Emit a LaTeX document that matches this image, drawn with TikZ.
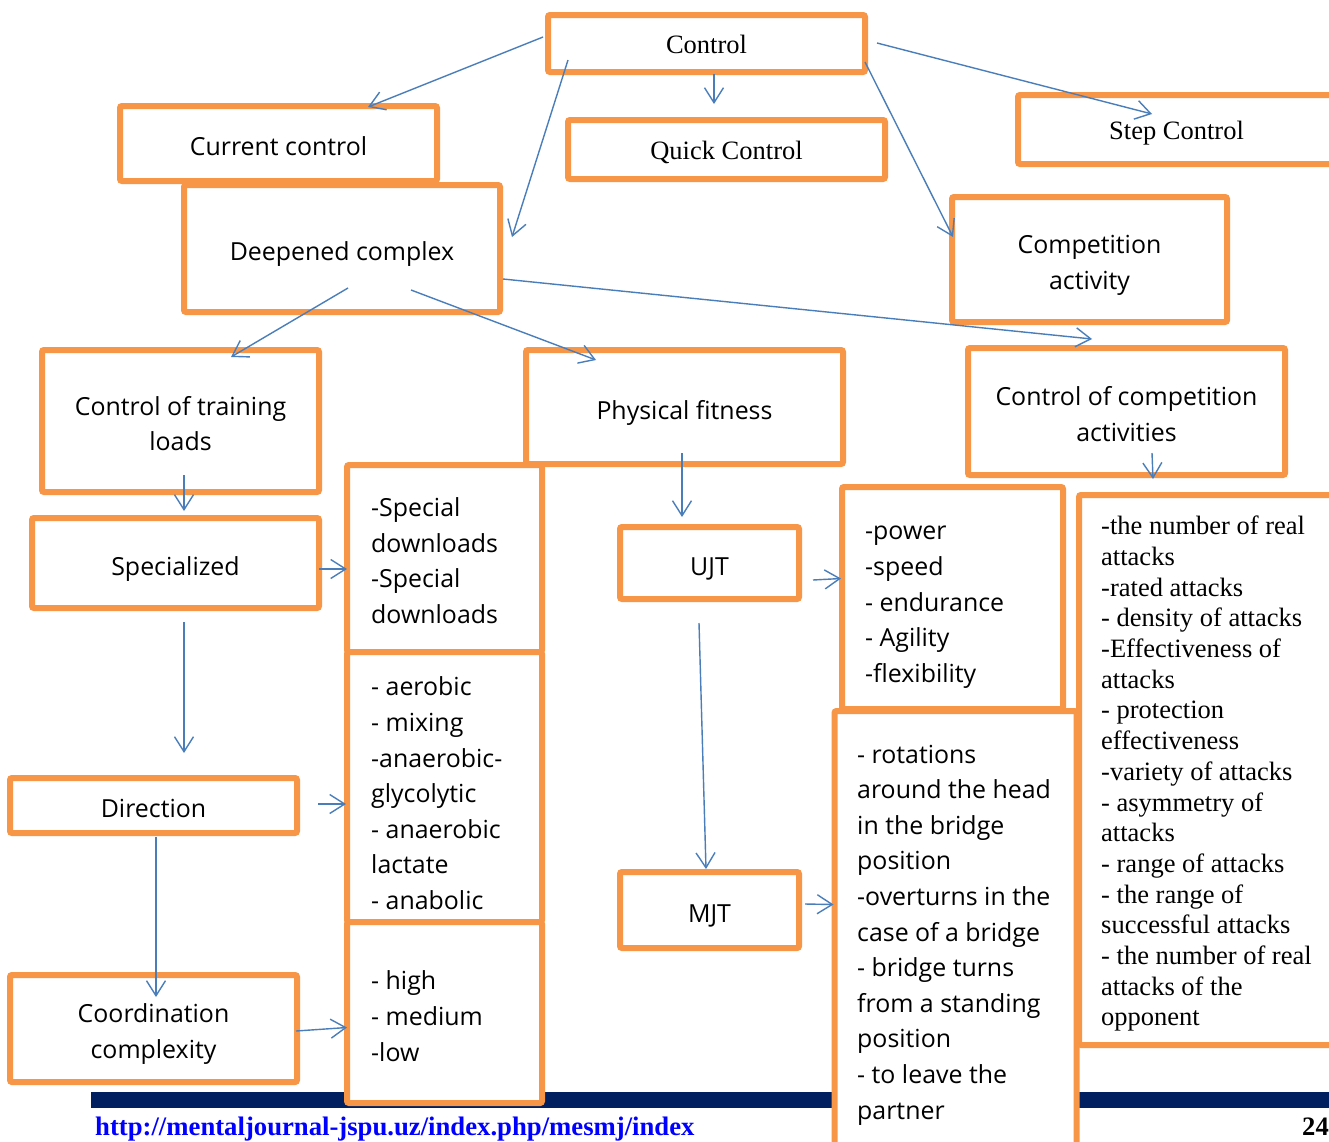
\documentclass[tikz,border=0pt]{standalone}
\usepackage{fontspec}
\setmainfont{Liberation Serif}
\newfontfamily\sansf{Open Sans}
\usetikzlibrary{arrows.meta}
\definecolor{orng}{HTML}{F79646}
\definecolor{arrblue}{HTML}{4A7EBB}
\definecolor{navybar}{HTML}{002060}
\definecolor{urlblue}{HTML}{0000FF}
\newcommand\ctab[1]{\raisebox{-5pt}[\height][\depth]{\begin{tabular}{@{}c@{}}#1\end{tabular}}}
\newcommand\rtab[1]{\raisebox{-4pt}[\height][\depth]{\begin{tabular}{@{}c@{}}#1\end{tabular}}}
\newcommand\ltab[1]{\begin{tabular}{@{}l@{}}#1\end{tabular}}
\begin{document}
\begin{tikzpicture}[x=1pt,y=-1pt,
  box/.style={draw=orng, line width=6pt, fill=white, rounded corners=2pt, inner sep=0pt, outer sep=0pt},
  wh/.style 2 args={minimum width=#1pt, minimum height=#2pt},
  sbox/.style={box, font=\sansf\fontsize{24.9pt}{35.7pt}\selectfont, text=black},
  rbox/.style={box, font=\fontsize{26.5pt}{30.7pt}\selectfont, text=black},
  ltxt/.style={font=\sansf\fontsize{24.9pt}{35.6pt}\selectfont, inner sep=0pt, anchor=west},
  rtxt/.style={font=\fontsize{26.5pt}{30.7pt}\selectfont, inner sep=0pt, anchor=west},
  arr/.style={draw=arrblue, line width=1.4pt, -{Straight Barb[length=15pt,width=19pt]}}
]
\useasboundingbox (0,0) rectangle (1329,1141);
\clip (0,0) rectangle (1329,1141);
\fill[white] (0,0) rectangle (1329,1141);
% footer
\fill[navybar] (91,1092) rectangle (1340,1108);
\node[anchor=base west, inner sep=0pt, font=\bfseries\fontsize{26.7pt}{30pt}\selectfont, text=urlblue] (url) at (95,1135) {\underline{http://mentaljournal-jspu.uz/index.php/mesmj/index}};
\node[anchor=base east, inner sep=0pt, font=\bfseries\fontsize{26.6pt}{30pt}\selectfont] (pg) at (1329,1135) {24};

% boxes
\node[rbox, wh={317}{57}] (ctrl) at (706.5,43.5) {\rtab{Control}};
\node[sbox, wh={317}{75}] (cur) at (278.5,143.5) {\ctab{Current control}};
\node[rbox, wh={317}{59}] (quick) at (726.5,149.5) {\rtab{Quick Control}};
\node[rbox, wh={317}{69}] (step) at (1176.5,129.5) {\rtab{Step Control}};
\node[sbox, wh={316}{127}] (deep) at (342,248.5) {\ctab{Deepened complex}};
\node[sbox, wh={275}{125}] (comp) at (1089.5,259.5) {\ctab{Competition\\activity}};
\node[sbox, wh={277}{142}] (ctl) at (180.5,421) {\ctab{Control of training\\loads}};
\node[sbox, wh={317}{114}] (phys) at (684.5,407) {\ctab{Physical fitness}};
\node[sbox, wh={317}{127}] (cca) at (1126.5,411.5) {\ctab{Control of competition\\activities}};
\node[sbox, wh={287}{90}] (spec) at (175.5,563) {\ctab{Specialized}};
\node[sbox, wh={287}{55}] (dir) at (153.5,805.5) {\ctab{Direction}};
\node[sbox, wh={287}{107}] (coord) at (153.5,1028.5) {\ctab{Coordination\\complexity}};
\node[sbox, wh={179}{72}] (ujt) at (709.5,563) {\ctab{UJT}};
\node[sbox, wh={179}{76}] (mjt) at (709.5,910) {\ctab{MJT}};

% list boxes
\node[box, wh={195}{187}] (sdl) at (444.5,558.5) {};
\node[box, wh={195}{270}] (aer) at (444.5,787) {};
\node[box, wh={195}{181}] (high) at (444.5,1012.5) {};
\node[box, wh={221}{222}] (pow) at (952.5,598) {};
\node[box, wh={242}{440}] (rot) at (955.5,931) {};
\node[box, wh={266}{550}] (rlist) at (1212,770) {};

\node[ltxt] (sdlt) at (371,563) {\ltab{-Special\\downloads\\-Special\\downloads}};
\node[ltxt] (aert) at (371,795.5) {\ltab{- aerobic\\- mixing\\-anaerobic-\\glycolytic\\- anaerobic\\lactate\\- anabolic}};
\node[ltxt] (hight) at (371,1018.3) {\ltab{- high\\- medium\\-low}};
\node[ltxt] (powt) at (865,604) {\ltab{-power\\-speed\\- endurance\\- Agility\\-flexibility}};
\node[ltxt] (rott) at (857,934) {\ltab{- rotations\\around the head\\in the bridge\\position\\-overturns in the\\case of a bridge\\- bridge turns\\from a standing\\position\\- to leave the\\partner}};
\node[rtxt] (rlistt) at (1101,774.2) {\ltab{-the number of real\\attacks\\-rated attacks\\- density of attacks\\-Effectiveness of\\attacks\\- protection\\effectiveness\\-variety of attacks\\- asymmetry of\\attacks\\- range of attacks\\- the range of\\successful attacks\\- the number of real\\attacks of the\\opponent}};

% connectors
\draw[arr] ([shift={(-5,-6.5)}]ctrl.west) -- ([shift={(89.5,1)}]cur.north);
\draw[arr] ([shift={(7.5,2)}]ctrl.south) -- ([shift={(-12.5,-16)}]quick.north);
\draw[arr] ([shift={(12,-0.5)}]ctrl.east) -- ([shift={(-24.5,19)}]step.north);
\draw[arr] ([shift={(20,-12)}]ctrl.south west) -- ([shift={(12,-11.5)}]deep.east);
\draw[arr] ([shift={(0,-10)}]ctrl.south east) -- ([shift={(1,-22.5)}]comp.west);
\draw[arr] ([shift={(6,-24)}]deep.south) -- ([shift={(50.5,7)}]ctl.north);
\draw[arr] ([shift={(69,-22)}]deep.south) -- ([shift={(70,10)}]phys.north west);
\draw[arr] ([shift={(3,30.5)}]deep.east) -- ([shift={(-34.5,-9)}]cca.north);
\draw[arr] ([shift={(3.5,-17)}]ctl.south) -- ([shift={(8.5,-7)}]spec.north);
\draw[arr] ([shift={(0,6)}]spec.east) -- ([shift={(0,10.5)}]sdl.west);
\draw[arr] ([shift={(8.5,14)}]spec.south) -- ([shift={(30.5,-25)}]dir.north);
\draw[arr] ([shift={(21,-1.5)}]dir.east) -- ([shift={(-1,17)}]aer.west);
\draw[arr] ([shift={(2.5,4)}]dir.south) -- ([shift={(2.5,22)}]coord.north);
\draw[arr] ([shift={(-1,2.5)}]coord.east) -- ([shift={(0,15)}]high.west);
\draw[arr] ([shift={(-2.5,-11)}]phys.south) -- ([shift={(-27.5,-10)}]ujt.north);
\draw[arr] ([shift={(14,17)}]ujt.east) -- ([shift={(-1,-19.5)}]pow.west);
\draw[arr] ([shift={(-10.5,24)}]ujt.south) -- ([shift={(-3.5,-3)}]mjt.north);
\draw[arr] ([shift={(6,-6)}]mjt.east) -- ([shift={(-1,-26.5)}]rot.west);
\draw[arr] ([shift={(25.5,-22)}]cca.south) -- ([shift={(-59,-16)}]rlist.north);
\end{tikzpicture}
\end{document}
